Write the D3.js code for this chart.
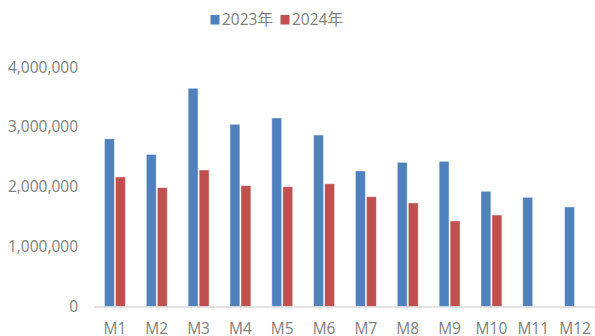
<!DOCTYPE html>
<html>
<head>
<meta charset="utf-8">
<script src="https://cdn.jsdelivr.net/npm/d3@7"></script>
<style>
  body { margin: 0; background: #fff; }
  text { font-family: "Open Sans", "Noto Sans CJK SC", sans-serif; }
</style>
</head>
<body>
<svg width="595" height="336"></svg>
<script>
const months = ['M1', 'M2', 'M3', 'M4', 'M5', 'M6', 'M7', 'M8', 'M9', 'M10', 'M11', 'M12'];
const seriesNames = ['2023年', '2024年'];
const values2023 = [2800000, 2540000, 3645000, 3043000, 3148000, 2864000, 2263000, 2408000, 2425000, 1924000, 1824000, 1662000];
const values2024 = [2163000, 1985000, 2280000, 2018000, 2000000, 2050000, 1834000, 1729000, 1428000, 1528000, null, null];
const yTicks = [0, 1000000, 2000000, 3000000, 4000000];
const colors = ['#4f81bd', '#c0504d'];

const svg = d3.select('svg');
const plotLeft = 94, plotRight = 596, plotTop = 67, plotBottom = 306.5;

const x = d3.scaleBand().domain(months).range([plotLeft, plotRight]).paddingInner(0.5).paddingOuter(0.25);
const xs = d3.scaleBand().domain(seriesNames).range([0, x.bandwidth()]).paddingInner(0.1);
const y = d3.scaleLinear().domain([0, 4000000]).range([plotBottom, plotTop]);

const rows = months.map((m, i) => ({month: m, vals: [values2023[i], values2024[i]]}));

// y labels
svg.selectAll('.ylab')
  .data(yTicks)
  .enter()
  .append('text')
  .attr('x', 78)
  .attr('y', d => y(d) + 5.5)
  .attr('text-anchor', 'end')
  .style('font-size', '15.5px')
  .style('fill', '#808080')
  .text(d => d3.format(',')(d));

// bars
const groups = svg.selectAll('.grp')
  .data(rows)
  .enter()
  .append('g')
  .attr('transform', d => `translate(${x(d.month)},0)`);

groups.selectAll('rect')
  .data(d => d.vals.map((v, i) => ({name: seriesNames[i], v: v, i: i})).filter(e => e.v != null))
  .enter()
  .append('rect')
  .attr('x', d => xs(d.name))
  .attr('width', xs.bandwidth())
  .attr('y', d => y(d.v))
  .attr('height', d => y(0) - y(d.v))
  .attr('fill', d => colors[d.i])
  .attr('stroke', 'rgba(255,255,255,0.55)')
  .attr('stroke-width', 0.8);

// x axis line
svg.append('line')
  .attr('x1', plotLeft).attr('x2', 595)
  .attr('y1', plotBottom + 0.5).attr('y2', plotBottom + 0.5)
  .attr('stroke', '#d9d9d9')
  .attr('stroke-width', 1.5);

// x labels
svg.selectAll('.xlab')
  .data(months)
  .enter()
  .append('text')
  .attr('x', d => x(d) + x.bandwidth() / 2)
  .attr('y', 334)
  .attr('text-anchor', 'middle')
  .style('font-size', '15.5px')
  .style('fill', '#808080')
  .text(d => d);

// legend
const legend = svg.selectAll('.leg')
  .data(seriesNames)
  .enter()
  .append('g')
  .attr('transform', (d, i) => `translate(${210.5 + i * 70},15)`);

legend.append('rect')
  .attr('width', 9)
  .attr('height', 9.5)
  .attr('fill', (d, i) => colors[i]);

legend.append('text')
  .attr('x', 11.5)
  .attr('y', 10)
  .style('font-size', '15.5px')
  .style('fill', '#808080')
  .text(d => d);
</script>
</body>
</html>
